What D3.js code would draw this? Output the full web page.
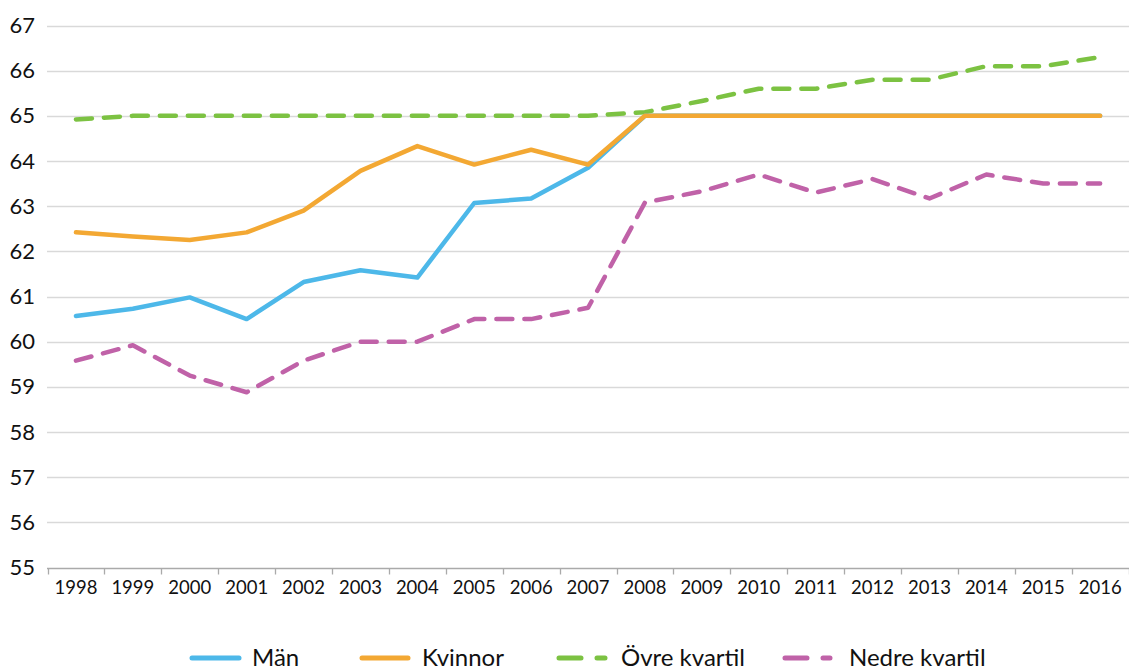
<!DOCTYPE html>
<html><head><meta charset="utf-8">
<script src="https://cdn.jsdelivr.net/npm/d3@7"></script>
<style>body{margin:0;background:#fff;} svg{display:block;font-family:Lato,"Open Sans",sans-serif;}</style>
</head><body>
<svg id="c" width="1129" height="671"></svg>
<script>
const years = ["1998","1999","2000","2001","2002","2003","2004","2005","2006","2007","2008","2009","2010","2011","2012","2013","2014","2015","2016"];
const man = [60.57,60.73,60.98,60.5,61.32,61.58,61.42,63.07,63.17,63.85,65,65,65,65,65,65,65,65,65];
const kvinnor = [62.42,62.33,62.25,62.42,62.9,63.78,64.33,63.92,64.25,63.92,65,65,65,65,65,65,65,65,65];
const ovre = [64.92,65,65,65,65,65,65,65,65,65,65.08,65.33,65.6,65.6,65.8,65.8,66.1,66.1,66.3];
const nedre = [59.58,59.92,59.25,58.88,59.58,60,60,60.5,60.5,60.75,63.08,63.33,63.7,63.3,63.6,63.17,63.7,63.5,63.5];
const yTicks = [55,56,57,58,59,60,61,62,63,64,65,66,67];
const seriesNames = ["Män","Kvinnor","Övre kvartil","Nedre kvartil"];
const colors = ["#4db8e9","#f3a833","#7cc242","#c062a8"];

const svg = d3.select("#c");
const x = d3.scaleBand().domain(years).range([47.5,1128.6]);
const y = d3.scaleLinear().domain([55,67]).range([567.5,25.5]);

// title (mostly off-canvas, as in the reference)
svg.append("text").attr("x",450).attr("y",-4).attr("text-anchor","middle")
  .attr("font-size",22).attr("font-weight","bold").attr("fill","#000")
  .text("Genomsnittlig utträdesålder per kön samt övre och nedre kvartil, åldersgrupp 55–67");

// grid
svg.append("g").selectAll("line").data(yTicks.slice(1)).join("line")
  .attr("x1",47).attr("x2",1129).attr("y1",d=>Math.round(y(d))+0.5).attr("y2",d=>Math.round(y(d))+0.5)
  .attr("stroke","#d9d9d9").attr("stroke-width",1.3);
// y labels
svg.append("g").selectAll("text").data(yTicks).join("text")
  .attr("x",35).attr("y",d=>y(d)+7.5).attr("text-anchor","end")
  .attr("font-size",22).attr("fill","#111").text(d=>d);

// x axis
const xa = svg.append("g").attr("transform","translate(0,"+(Math.round(y(55))+0.5)+")");
xa.append("line").attr("x1",47).attr("x2",1129).attr("stroke","#aaa").attr("stroke-width",1.3);
xa.selectAll("line.t").data(years.concat(["end"])).join("line").attr("class","t")
  .attr("x1",(d,i)=>Math.round(x.range()[0]+i*x.step())+0.5).attr("x2",(d,i)=>Math.round(x.range()[0]+i*x.step())+0.5)
  .attr("y1",0).attr("y2",6).attr("stroke","#aaa").attr("stroke-width",1.3);
xa.selectAll("text").data(years).join("text")
  .attr("x",d=>x(d)+x.bandwidth()/2).attr("y",25).attr("text-anchor","middle")
  .attr("font-size",18.5).attr("fill","#111").text(d=>d);

const line = d3.line().x((d,i)=>x(years[i])+x.bandwidth()/2).y(d=>y(d));
const data = [man,kvinnor,ovre,nedre];
const dashes = [null,null,"16 12","16 12"];
[2,3,0,1].forEach(k=>{
  svg.append("path").datum(data[k]).attr("d",line).attr("fill","none")
    .attr("stroke",colors[k]).attr("stroke-width",4.5).attr("stroke-linecap","round")
    .attr("stroke-linejoin","round").attr("stroke-dasharray",dashes[k]);
});

// legend
const leg = [{x1:192,x2:239,tx:252},{x1:362,x2:408,tx:422},{x1:559,x2:605,tx:621},{x1:785,x2:830,tx:849}];
leg.forEach((l,k)=>{
  svg.append("line").attr("x1",l.x1).attr("x2",l.x2).attr("y1",658).attr("y2",658)
    .attr("stroke",colors[k]).attr("stroke-width",5).attr("stroke-linecap","round")
    .attr("stroke-dasharray",dashes[k]?"22 16":null);
  svg.append("text").attr("x",l.tx).attr("y",666).attr("font-size",24).attr("fill","#111").text(seriesNames[k]);
});
</script>
</body></html>
